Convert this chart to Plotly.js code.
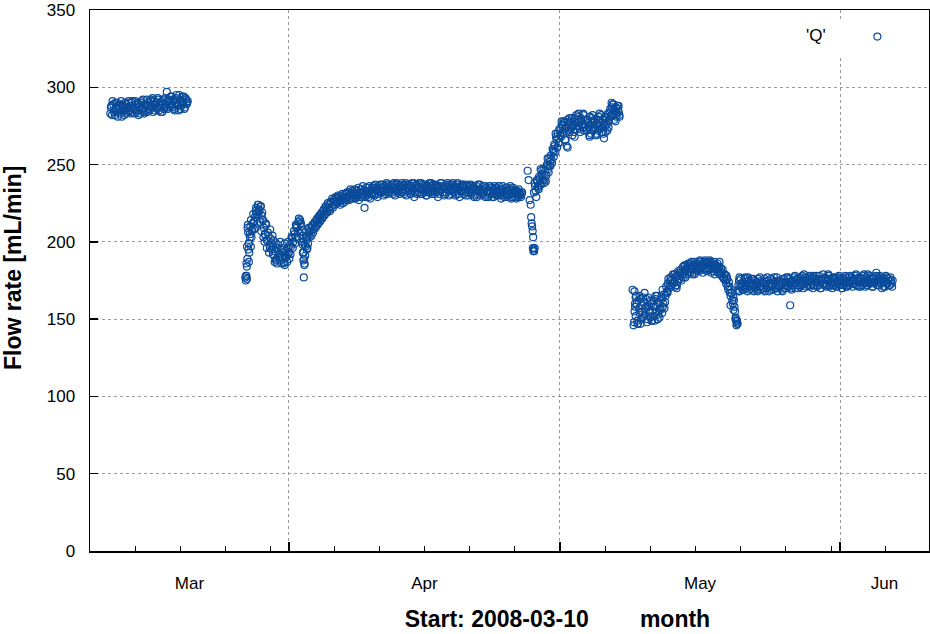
<!DOCTYPE html>
<html>
<head>
<meta charset="utf-8">
<script src="https://cdn.plot.ly/plotly-3.0.1.min.js"></script>
<style>
  body { margin: 0; background: #ffffff; }
</style>
</head>
<body>
<div id="myDiv"></div>
<script>
// Flow rate 'Q', two interleaved loggers, each every 3 hours (start time + values)
var stepHours = 3

var seg1Start = '2008-03-12T06:00:00Z'
var seg1Flow = [283, 288, 291, 285, 282, 287, 290, 284, 286, 289, 281, 288, 285, 290, 283, 287, 291,
  285, 283, 290, 287, 286, 291, 284, 289, 282, 288, 290, 285, 292, 283, 287, 289, 284,
  290, 286, 292, 288, 284, 291, 289, 287, 293, 285, 288, 290, 284, 292, 287, 289, 297,
  286, 292, 289, 294, 287, 291, 285, 293, 290, 288, 295, 286, 291, 289, 294, 287, 292, 290]
var seg1bStart = '2008-03-12T07:30:00Z'
var seg1bFlow = [287, 282, 289, 284, 290, 286, 281, 288, 283, 291, 285, 287, 282, 289, 286, 284, 290,
  288, 284, 291, 286, 283, 289, 285, 290, 287, 283, 291, 286, 284, 289, 285, 292, 288,
  285, 291, 287, 293, 289, 285, 290, 286, 292, 288, 284, 291, 289, 286, 293, 287, 291,
  291, 287, 294, 288, 292, 286, 290, 295, 289, 285, 292, 288, 294, 290, 286, 293, 289, 291]

var seg2Start = '2008-03-27T06:00:00Z'
var seg2Flow = [178, 197, 206, 193, 210, 203, 212, 208,
  216, 222, 219, 224, 220, 223, 217, 214,
  209, 205, 211, 201, 204, 198, 202, 195,
  197, 191, 194, 189, 196, 192, 188, 195,
  190, 193, 187, 194, 191, 196, 193, 198,
  197, 202, 200, 205, 203, 209, 207, 213,
  214, 210, 204, 193, 186, 197, 203, 199,
  206, 209, 204, 211, 208, 213, 210, 215,
  212, 217, 214, 219, 216, 221, 218, 222,
  219, 224, 221, 226, 223, 222, 227, 224,
  228, 225, 229, 226, 230, 227, 225, 229,
  231, 227, 229, 232, 228, 230, 233, 229,
  231, 228, 233, 230, 227, 232, 234, 229,
  231, 222, 233, 230, 235, 231, 228, 234,
  232, 236, 230, 233, 235, 231, 234, 237,
  232, 235, 230, 236, 233, 237, 231, 234,
  236, 232, 235, 238, 230, 234, 237, 233,
  231, 235, 238, 232, 236, 234, 230, 237,
  233, 236, 231, 238, 234, 229, 235, 237,
  232, 236, 234, 238, 231, 235, 233, 237,
  230, 236, 234, 232, 238, 233, 235, 231,
  237, 234, 229, 236, 233, 238, 232, 235,
  231, 236, 234, 237, 230, 235, 233, 238,
  232, 235, 231, 237, 234, 229, 236, 233,
  237, 231, 235, 232, 236, 230, 234, 237,
  232, 235, 229, 234, 236, 231, 233, 237,
  230, 234, 232, 236, 229, 235, 233, 231,
  236, 232, 229, 234, 231, 235, 230, 233,
  236, 231, 228, 234, 232, 230, 235, 229,
  233, 231, 236, 228, 232, 234, 229, 231,
  233, 229, 232, 230, 231]
var seg2bStart = '2008-03-27T07:30:00Z'
var seg2bFlow = [186, 209, 199, 205, 214, 207, 218, 213,
  209, 218, 212, 221, 213, 207, 219, 203,
  200, 212, 196, 206, 193, 208, 199, 204,
  201, 187, 199, 186, 198, 190, 200, 186,
  196, 186, 199, 190, 187, 200, 189, 192,
  203, 196, 207, 199, 210, 202, 213, 206,
  212, 207, 198, 189, 191, 201, 196, 204,
  203, 207, 210, 206, 212, 209, 214, 211,
  216, 213, 218, 215, 220, 217, 223, 220,
  225, 222, 220, 225, 228, 224, 226, 229,
  226, 230, 227, 224, 228, 231, 229, 226,
  228, 232, 230, 227, 234, 231, 228, 232,
  234, 230, 229, 235, 232, 229, 231, 236,
  233, 229, 235, 232, 229, 236, 233, 231,
  235, 231, 237, 234, 229, 236, 232, 235,
  237, 233, 236, 231, 238, 234, 232, 236,
  233, 237, 231, 235, 233, 238, 232, 236,
  236, 232, 234, 237, 231, 238, 235, 233,
  237, 231, 235, 233, 238, 232, 236, 231,
  235, 238, 231, 234, 237, 232, 236, 230,
  235, 232, 238, 236, 231, 237, 233, 236,
  232, 236, 235, 231, 238, 234, 236, 230,
  235, 232, 238, 233, 236, 231, 237, 234,
  236, 230, 234, 238, 231, 235, 233, 237,
  233, 236, 230, 237, 234, 232, 236, 231,
  236, 230, 235, 233, 229, 237, 234, 232,
  234, 231, 236, 230, 235, 232, 229, 236,
  233, 235, 231, 229, 236, 232, 234, 230,
  232, 234, 230, 236, 229, 233, 231, 235,
  230, 234, 232, 229, 235, 231, 233, 228,
  230, 234, 231, 229, 232]

var seg3Start = '2008-04-28T00:00:00Z'
var seg3Flow = [196, 232, 236, 229, 239, 235, 241, 237,
  244, 240, 238, 246, 243, 249, 245, 252,
  256, 251, 259, 263, 258, 266, 270, 264,
  272, 268, 275, 270, 277, 273, 262, 276,
  271, 278, 274, 269, 276, 280, 273, 277,
  281, 275, 271, 278, 274, 282, 276, 279,
  273, 277, 269, 275, 280, 272, 278, 274,
  270, 276, 281, 273, 277, 271, 279, 267,
  275, 280, 272, 278, 284, 281, 287, 283,
  279, 285, 281, 288, 284]
var seg3bStart = '2008-04-28T01:30:00Z'
var seg3bFlow = [194, 238, 233, 240, 236, 242, 238, 246,
  241, 247, 243, 239, 250, 247, 254, 249,
  253, 260, 255, 262, 268, 261, 267, 273,
  269, 276, 271, 278, 266, 274, 279, 272,
  277, 273, 280, 275, 271, 278, 282, 275,
  278, 273, 280, 276, 283, 274, 279, 272,
  279, 274, 281, 270, 277, 273, 279, 269,
  277, 272, 279, 275, 282, 274, 270, 277,
  281, 276, 283, 279, 286, 282, 289, 285,
  282, 287, 283, 286, 282]

var seg4Start = '2008-05-09T06:00:00Z'
var seg4Flow = [168, 152, 160, 147, 157, 163, 150, 155,
  161, 153, 158, 148, 164, 156, 151, 160,
  155, 162, 149, 158, 165, 153, 160, 156,
  163, 158, 166, 161, 171, 168, 176, 172,
  177, 173, 179, 175, 171, 178, 174, 180,
  176, 182, 178, 184, 180, 177, 183, 185,
  181, 186, 183, 179, 185, 187, 182, 184,
  186, 181, 188, 184, 182, 186, 183, 187,
  181, 185, 183, 187, 180, 184, 186, 182,
  185, 183, 180, 184, 181, 178, 182, 176,
  179, 173, 176, 169, 171, 165, 167, 160,
  162, 155, 149, 147, 172, 168, 176, 171,
  174, 169, 177, 172, 168, 175, 171, 174,
  169, 176, 172, 170, 174, 168, 173, 177,
  171, 174, 169, 176, 172, 170, 175, 168,
  173, 176, 171, 169, 174, 172, 177, 170,
  175, 171, 173, 168, 176, 172, 170, 174,
  177, 171, 174, 169, 175, 172, 178, 173,
  176, 170, 174, 177, 172, 175, 179, 173,
  171, 176, 174, 178, 172, 175, 170, 177,
  174, 178, 172, 176, 173, 170, 175, 179,
  173, 176, 171, 175, 178, 172, 174, 170,
  176, 173, 177, 171, 175, 178, 172, 174,
  170, 176, 173, 177, 171, 175, 172, 178,
  174, 171, 176, 173, 179, 172, 175, 177,
  171, 176, 174, 179, 173, 177, 172, 175,
  178, 173, 176, 171, 177, 174, 180, 172,
  175, 178, 173, 170, 176, 174, 171, 177,
  173, 176, 172, 175, 171]
var seg4bStart = '2008-05-09T07:30:00Z'
var seg4bFlow = [158, 165, 149, 162, 154, 147, 159, 164,
  152, 157, 163, 150, 159, 154, 162, 149,
  158, 152, 163, 155, 150, 161, 157, 164,
  154, 160, 157, 165, 167, 173, 170, 175,
  171, 176, 173, 179, 177, 172, 181, 176,
  179, 175, 181, 177, 185, 182, 179, 186,
  184, 180, 187, 182, 184, 180, 186, 183,
  182, 187, 183, 186, 180, 185, 188, 182,
  186, 182, 188, 183, 185, 181, 187, 184,
  182, 186, 183, 179, 183, 180, 177, 179,
  175, 178, 171, 174, 167, 169, 162, 164,
  158, 151, 148, 169, 175, 171, 173, 169,
  171, 176, 170, 174, 177, 169, 173, 176,
  172, 168, 175, 173, 169, 176, 171, 169,
  175, 170, 173, 168, 174, 177, 171, 173,
  169, 172, 175, 177, 170, 174, 168, 175,
  171, 174, 169, 176, 170, 174, 177, 171,
  173, 176, 170, 175, 172, 177, 170, 175,
  172, 176, 171, 174, 178, 170, 175, 177,
  175, 172, 177, 171, 176, 173, 178, 172,
  176, 171, 175, 178, 170, 176, 173, 172,
  177, 172, 175, 179, 171, 176, 173, 177,
  172, 176, 171, 174, 177, 172, 176, 170,
  175, 172, 178, 171, 174, 177, 173, 175,
  177, 173, 175, 178, 172, 176, 171, 174,
  176, 172, 178, 174, 171, 175, 179, 173,
  174, 177, 171, 176, 173, 178, 175, 177,
  172, 176, 174, 177, 171, 175, 178, 173,
  176, 172, 177, 173, 175]

// extra readings logged during fast transients
var seg2ExtraTime = ['2008-03-27 04:36', '2008-03-27 05:54', '2008-03-27 07:18', '2008-03-27 08:36', '2008-03-27 08:36',
  '2008-03-27 09:54', '2008-03-27 11:12', '2008-03-27 12:36', '2008-03-27 13:54', '2008-03-27 13:54',
  '2008-03-27 16:30', '2008-03-27 19:12', '2008-03-27 21:54', '2008-03-28 03:12', '2008-03-28 08:30',
  '2008-03-28 13:48', '2008-03-28 16:24', '2008-03-28 21:42', '2008-03-29 03:00', '2008-03-29 08:24',
  '2008-03-29 13:42', '2008-03-29 21:36', '2008-03-30 05:36', '2008-03-30 13:30', '2008-03-31 00:06',
  '2008-03-31 13:24', '2008-03-31 21:24', '2008-04-01 08:00', '2008-04-01 18:36', '2008-04-02 02:36',
  '2008-04-02 07:54', '2008-04-02 11:54', '2008-04-02 13:12', '2008-04-02 14:30', '2008-04-02 15:48',
  '2008-04-02 17:12', '2008-04-02 18:30', '2008-04-02 21:06', '2008-04-02 23:48', '2008-04-03 05:06']
var seg2ExtraFlow = [177, 175, 178, 184, 176, 189, 211, 195, 199, 187,
  203, 197, 208, 213, 220, 224, 219, 223, 214, 205,
  201, 196, 192, 188, 191, 185, 192, 203, 211, 215,
  212, 200, 193, 188, 177, 185, 198, 203, 195, 209]

var seg3ExtraTime = ['2008-04-27 10:12', '2008-04-27 12:48', '2008-04-27 15:30', '2008-04-27 18:12', '2008-04-27 19:30',
  '2008-04-27 20:48', '2008-04-27 22:06', '2008-04-27 23:30', '2008-04-28 00:48', '2008-04-28 02:06',
  '2008-04-28 03:24', '2008-04-28 04:48', '2008-04-28 15:24', '2008-04-28 20:42', '2008-04-29 07:18',
  '2008-04-29 15:18', '2008-04-29 20:36', '2008-04-30 07:12', '2008-04-30 12:30', '2008-04-30 20:30',
  '2008-05-01 04:24', '2008-05-01 15:00', '2008-05-01 20:18', '2008-05-02 01:36', '2008-05-02 14:54',
  '2008-05-03 01:30', '2008-05-03 14:48', '2008-05-04 06:42', '2008-05-04 14:42', '2008-05-05 01:18',
  '2008-05-05 09:12', '2008-05-05 19:48', '2008-05-06 01:12', '2008-05-06 09:06', '2008-05-06 17:06',
  '2008-05-06 22:24', '2008-05-07 03:42', '2008-05-07 11:42', '2008-05-07 14:18']
var seg3ExtraFlow = [246, 240, 227, 224, 216, 212, 210, 207, 203, 195,
  194, 196, 234, 247, 240, 254, 249, 258, 270, 264,
  278, 266, 261, 280, 268, 283, 272, 268, 282, 269,
  283, 276, 271, 274, 290, 289, 278, 288, 281]

var seg4ExtraTime = ['2008-05-09 00:48', '2008-05-09 03:24', '2008-05-09 04:48', '2008-05-09 06:06', '2008-05-09 07:24',
  '2008-05-09 08:48', '2008-05-09 14:06', '2008-05-09 19:24', '2008-05-10 03:18', '2008-05-10 08:36',
  '2008-05-10 16:36', '2008-05-11 03:12', '2008-05-11 13:48', '2008-05-12 00:24', '2008-05-12 08:24',
  '2008-05-12 21:42', '2008-05-13 21:36', '2008-05-14 18:48', '2008-05-15 21:18', '2008-05-16 10:36',
  '2008-05-17 07:48', '2008-05-18 02:24', '2008-05-18 15:42', '2008-05-19 10:12', '2008-05-19 20:48',
  '2008-05-20 04:48', '2008-05-20 10:06', '2008-05-20 12:42', '2008-05-20 14:06', '2008-05-20 15:24',
  '2008-05-20 18:06', '2008-05-20 20:42', '2008-05-26 11:18']
var seg4ExtraFlow = [169, 146, 148, 155, 160, 164, 147, 165, 151, 167,
  158, 149, 165, 151, 169, 167, 170, 184, 179, 187,
  187, 179, 187, 176, 159, 156, 150, 146, 149, 147,
  168, 177, 159]

// axis labels / ticks
var monthStarts = ['2008-04-01', '2008-05-01', '2008-06-01']
var monthNames = ['Mar', 'Apr', 'May', 'Jun']
var monthLabelAt = ['2008-03-21', '2008-04-16', '2008-05-16 12:00', '2008-06-05 22:00']
var minorTicks = ['2008-03-15', '2008-03-20', '2008-03-25', '2008-03-30',
  '2008-04-06', '2008-04-11', '2008-04-16', '2008-04-21', '2008-04-26',
  '2008-05-06', '2008-05-11', '2008-05-16', '2008-05-21', '2008-05-26', '2008-05-31',
  '2008-06-06']
var xRange = ['2008-03-10', '2008-06-10 20:00']

// Expanding the regular runs into timestamps
function stamp(ms) {
  return new Date(ms).toISOString().slice(0, 16).replace('T', ' ')
}
var allX = []
var allY = []
function addRun(start, values) {
  var t0 = Date.parse(start)
  for (var i = 0; i < values.length; i++) {
    allX.push(stamp(t0 + i * stepHours * 3600000))
    allY.push(values[i])
  }
}
function addExtra(times, values) {
  for (var i = 0; i < times.length; i++) {
    allX.push(times[i])
    allY.push(values[i])
  }
}
addRun(seg1Start, seg1Flow)
addRun(seg1bStart, seg1bFlow)
addRun(seg2Start, seg2Flow)
addRun(seg2bStart, seg2bFlow)
addExtra(seg2ExtraTime, seg2ExtraFlow)
addRun(seg3Start, seg3Flow)
addRun(seg3bStart, seg3bFlow)
addExtra(seg3ExtraTime, seg3ExtraFlow)
addRun(seg4Start, seg4Flow)
addRun(seg4bStart, seg4bFlow)
addExtra(seg4ExtraTime, seg4ExtraFlow)

var blue = '#0a4b9b'
// plotly trims plain whitespace, so a zero-width char keeps the padding
var pad = function (n) { return '\u00a0'.repeat(n) }
var zw = '\u200b'

var data = [
  {x: allX, y: allY, type: 'scatter', mode: 'markers', name: ' ',
    marker: {symbol: 'circle-open', size: 7, color: blue, line: {width: 1.2, color: blue}},
    hoverinfo: 'skip'},
  // month label axis only
  {x: [], y: [], xaxis: 'x2', type: 'scatter', mode: 'markers', showlegend: false, hoverinfo: 'skip'}
]

var layout = {
  width: 930,
  height: 634,
  margin: {l: 90, r: 1, t: 10, b: 83},
  paper_bgcolor: '#ffffff',
  plot_bgcolor: '#ffffff',
  font: {family: 'Liberation Sans, Arial, sans-serif', size: 17, color: '#000000'},
  showlegend: true,
  legend: {
    x: 0.975, y: 0.95, xanchor: 'right', yanchor: 'middle',
    bgcolor: '#ffffff', borderwidth: 0,
    title: {text: "'Q'" + pad(5) + zw, side: 'left', font: {size: 17}},
    font: {size: 17}
  },
  xaxis: {
    type: 'date',
    range: xRange,
    tickmode: 'array',
    tickvals: monthStarts,
    ticktext: monthStarts.map(function () { return '' }),
    ticks: 'inside', ticklen: 9, tickwidth: 1.5, tickcolor: '#000000',
    showgrid: true, gridcolor: '#9a9a9a', griddash: 'dot', gridwidth: 1,
    zeroline: false,
    showline: true, mirror: true, linecolor: '#000000', linewidth: 1.5,
    minor: {tickmode: 'array', tickvals: minorTicks, ticks: 'inside', ticklen: 5, tickwidth: 1, tickcolor: '#000000', showgrid: false},
    title: {
      text: zw + pad(15) + 'Start: 2008-03-10' + pad(8) + 'month',
      font: {size: 23, weight: 'bold'},
      standoff: 56
    },
    automargin: false,
    fixedrange: true
  },
  xaxis2: {
    type: 'date',
    overlaying: 'x',
    anchor: 'y',
    side: 'bottom',
    range: xRange,
    tickmode: 'array',
    tickvals: monthLabelAt,
    ticktext: monthNames,
    ticks: '',
    ticklabelstandoff: 20,
    showgrid: false, zeroline: false, showline: false,
    tickfont: {size: 17},
    automargin: false,
    fixedrange: true
  },
  yaxis: {
    range: [0, 350],
    tickmode: 'linear', tick0: 0, dtick: 50,
    ticks: 'inside', ticklen: 8, tickwidth: 1.5, tickcolor: '#000000',
    showgrid: true, gridcolor: '#9a9a9a', griddash: 'dot', gridwidth: 1,
    zeroline: false,
    showline: true, mirror: true, linecolor: '#000000', linewidth: 1.5,
    ticklabelstandoff: 10,
    tickfont: {size: 17},
    title: {
      text: zw + pad(4) + 'Flow rate [mL/min]',
      font: {size: 23, weight: 'bold'},
      standoff: 18
    },
    automargin: false,
    fixedrange: true
  }
}

Plotly.newPlot('myDiv', data, layout, {staticPlot: true})
</script>
</body>
</html>
